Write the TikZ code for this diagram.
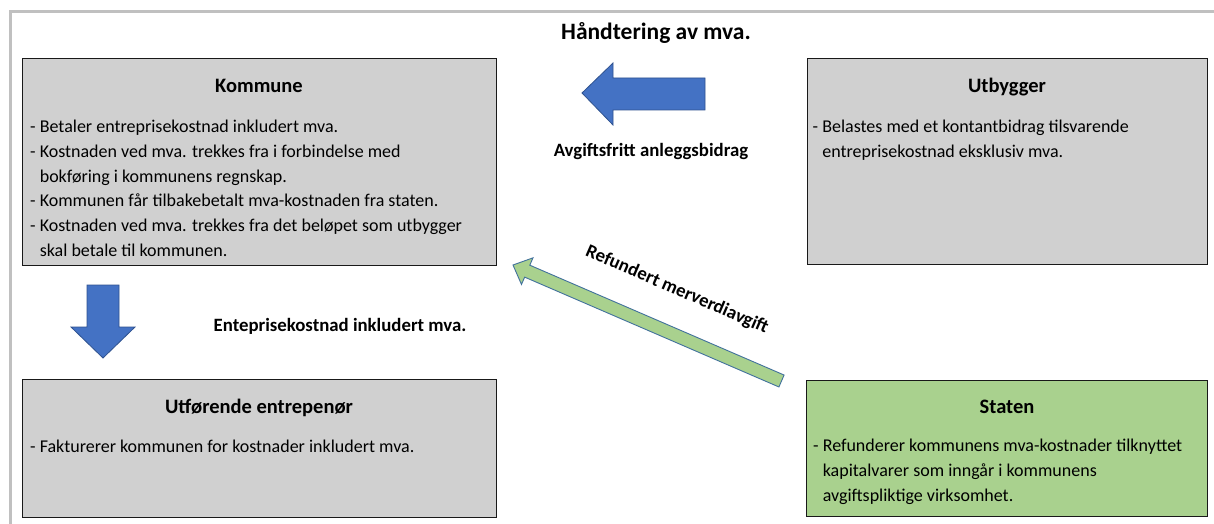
\documentclass[tikz,border=0pt]{standalone}
\usepackage{fontspec}
\setmainfont{Carlito}
\usetikzlibrary{calc}
\definecolor{boxgray}{HTML}{D0D0D0}
\definecolor{boxgreen}{HTML}{A9D18E}
\definecolor{arrblue}{HTML}{4472C4}
\definecolor{arredge}{HTML}{2F528F}
\definecolor{greenedge}{HTML}{41719C}
\definecolor{framegray}{HTML}{C0C0C0}
\newcommand{\ind}{\hspace*{9.6pt}}
\begin{document}
\begin{tikzpicture}[x=1pt,y=-1pt,
  box/.style={draw=black!90, line width=1.3pt, anchor=north west, inner sep=0},
  ttl/.style={font=\fontsize{20.5}{24}\selectfont\bfseries, anchor=base, inner sep=0},
  lbl/.style={font=\fontsize{18.8}{23}\selectfont\bfseries, anchor=base, inner sep=0},
  body/.style={font=\fontsize{18}{24.8}\selectfont, align=left, anchor=north west, inner sep=0},
  blk/.style={fill=arrblue, draw=arredge, line width=0.8pt, line join=miter},
  grn/.style={fill=boxgreen, draw=greenedge, line width=0.9pt, line join=miter},
]
\useasboundingbox (0,0) rectangle (1214,524);
\fill[white] (0,0) rectangle (1214,524);
\begin{scope}
  \clip (0,0) rectangle (1214,524);
  \draw[framegray, line width=3pt] (10,11.5) rectangle (1240,560);
\end{scope}

% title
\node[font=\fontsize{23.5}{27}\selectfont\bfseries, anchor=base, inner sep=0] (title) at (656,40) {Håndtering av mva.};

% boxes
\node[box, fill=boxgray, minimum width=474pt, minimum height=207pt] (kommune) at (22,58) {};
\node[box, fill=boxgray, minimum width=400pt, minimum height=206pt] (utbygger) at (807,58) {};
\node[box, fill=boxgray, minimum width=474pt, minimum height=138pt] (utforende) at (22,379) {};
\node[box, fill=boxgreen, minimum width=401pt, minimum height=136pt] (staten) at (806,380) {};

% box titles
\node[ttl] (kt) at (259,92.5) {Kommune};
\node[ttl] (ut) at (1007,92.5) {Utbygger};
\node[ttl] (uft) at (259,413.5) {Utførende entrepenør};
\node[ttl] (st) at (1007,413.5) {Staten};

% box bodies
\node[body] (kb) at (30,115) {\strut- Betaler entreprisekostnad inkludert mva.\\
\strut- Kostnaden ved mva. trekkes fra i forbindelse med\\
\strut\ind bokføring i kommunens regnskap.\\
\strut- Kommunen får tilbakebetalt mva-kostnaden fra staten.\\
\strut- Kostnaden ved mva. trekkes fra det beløpet som utbygger\\
\strut\ind skal betale til kommunen.};
\node[body] (ub) at (812.5,115) {\strut- Belastes med et kontantbidrag tilsvarende\\
\strut\ind entreprisekostnad eksklusiv mva.};
\node[body] (ufb) at (30,435) {\strut- Fakturerer kommunen for kostnader inkludert mva.};
\node[body] (sb) at (813,434) {\strut- Refunderer kommunens mva-kostnader tilknyttet\\
\strut\ind kapitalvarer som inngår i kommunens\\
\strut\ind avgiftspliktige virksomhet.};

% blue block arrow to the left
\draw[blk] (582,93) -- (613,63) -- (613,78) -- (705,78) -- (705,110) -- (613,110) -- (613,125) -- cycle;
\node[lbl] (avg) at (651,156.5) {Avgiftsfritt anleggsbidrag};

% blue block arrow down
\draw[blk] (103,358) -- (71,327) -- (87,327) -- (87,285) -- (119,285) -- (119,327) -- (135,327) -- cycle;
\node[lbl] (ent) at (340,331) {Enteprisekostnad inkludert mva.};

% green arrow
\coordinate (gtip) at (513,265);
\coordinate (gtail) at (781.5,381);
\coordinate (gh) at ($(gtip)!15.5pt!(gtail)$);
\draw[grn] (gtip) -- ($(gh)!14.5pt!90:(gtail)$) -- ($(gh)!6.5pt!90:(gtail)$)
  -- ($(gtail)!6.5pt!-90:(gh)$) -- ($(gtail)!6.5pt!90:(gh)$)
  -- ($(gh)!6.5pt!-90:(gtail)$) -- ($(gh)!14.5pt!-90:(gtail)$) -- cycle;
\node[font=\fontsize{18.8}{23}\selectfont\bfseries, rotate=-23.4, inner sep=0] (ref) at (677,290) {Refundert merverdiavgift};
\end{tikzpicture}
\end{document}
